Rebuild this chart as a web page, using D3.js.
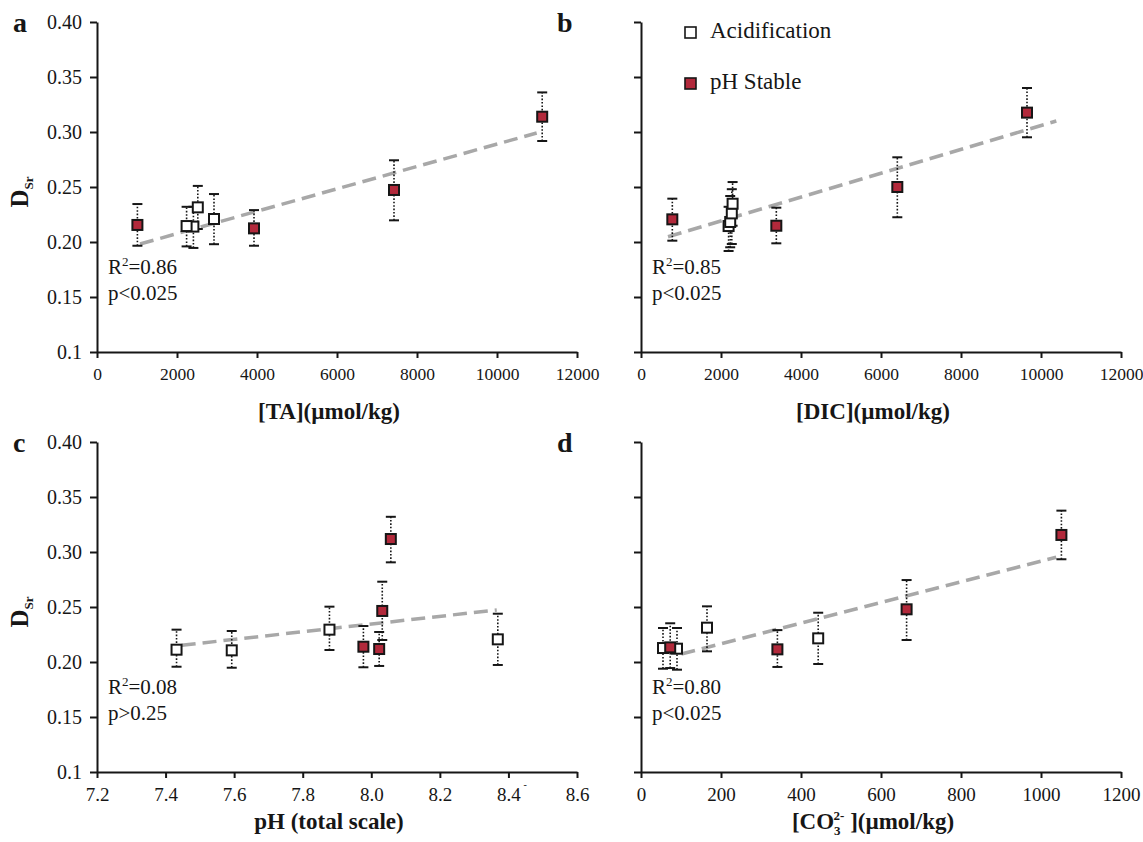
<!DOCTYPE html>
<html>
<head>
<meta charset="utf-8">
<script src="https://d3js.org/d3.v7.min.js"></script>
<style>
  body { margin: 0; background: #fff; }
  svg  { display: block; font-family: "Liberation Serif", "Times New Roman", serif; }
</style>
</head>
<body>
<svg id="chart" width="1143" height="842"></svg>
<script>
/* ============================================================
   DATA (D_Sr vs carbonate chemistry)
   ============================================================ */

const yTicks      = [0.10, 0.15, 0.20, 0.25, 0.30, 0.35, 0.40];
const yTickLabels = ['0.1', '0.15', '0.20', '0.25', '0.30', '0.35', '0.40'];

const concTicks   = [0, 2000, 4000, 6000, 8000, 10000, 12000];
const phTicks     = [7.2, 7.4, 7.6, 7.8, 8.0, 8.2, 8.4, 8.6];
const phLabels    = ['7.2', '7.4', '7.6', '7.8', '8.0', '8.2', '8.4', '8.6'];
const co3Ticks    = [0, 200, 400, 600, 800, 1000, 1200];

// panel a — [TA]
const taAcidX    = [2410, 2240, 2520, 2925];
const taAcidY    = [0.2140, 0.2145, 0.2315, 0.2209];
const taAcidLo   = [0.1946, 0.1960, 0.2118, 0.1980];
const taAcidHi   = [0.2320, 0.2320, 0.2510, 0.2436];
const taStableX  = [1010, 3925, 7425, 11130];
const taStableY  = [0.2155, 0.2124, 0.2473, 0.3139];
const taStableLo = [0.1966, 0.1966, 0.2197, 0.2918];
const taStableHi = [0.2345, 0.2290, 0.2743, 0.3360];
const taTrendX   = [1075, 10992];
const taTrendY   = [0.1982, 0.2991];

// panel b — [DIC]
const dicAcidX    = [2190, 2230, 2270, 2290];
const dicAcidY    = [0.2145, 0.2182, 0.2260, 0.2348];
const dicAcidLo   = [0.1918, 0.1952, 0.1982, 0.2148];
const dicAcidHi   = [0.2320, 0.2418, 0.2480, 0.2545];
const dicStableX  = [783, 3383, 6408, 9650];
const dicStableY  = [0.2206, 0.2148, 0.2500, 0.3176];
const dicStableLo = [0.2012, 0.1988, 0.2225, 0.2952];
const dicStableHi = [0.2394, 0.2312, 0.2770, 0.3400];
const dicTrendX   = [675, 10383];
const dicTrendY   = [0.2048, 0.3100];

// panel c — pH
const phAcidX    = [7.432, 7.593, 7.878, 8.369];
const phAcidY    = [0.2112, 0.2106, 0.2294, 0.2206];
const phAcidLo   = [0.1957, 0.1948, 0.2109, 0.1973];
const phAcidHi   = [0.2294, 0.2282, 0.2503, 0.2439];
const phStableX  = [7.977, 8.023, 8.032, 8.057];
const phStableY  = [0.2139, 0.2118, 0.2464, 0.3118];
const phStableLo = [0.1952, 0.1964, 0.2200, 0.2906];
const phStableHi = [0.2327, 0.2273, 0.2730, 0.3320];
const phTrendX   = [7.447, 8.366];
const phTrendY   = [0.2152, 0.2473];

// panel d — [CO3 2-]
const co3AcidX    = [55, 90, 165, 443];
const co3AcidY    = [0.2127, 0.2121, 0.2312, 0.2215];
const co3AcidLo   = [0.1939, 0.1930, 0.2097, 0.1982];
const co3AcidHi   = [0.2309, 0.2309, 0.2506, 0.2448];
const co3StableX  = [73, 341, 664, 1051];
const co3StableY  = [0.2133, 0.2115, 0.2479, 0.3155];
const co3StableLo = [0.1945, 0.1955, 0.2200, 0.2934];
const co3StableHi = [0.2352, 0.2290, 0.2745, 0.3376];
const co3TrendX   = [101, 1038];
const co3TrendY   = [0.2073, 0.2952];

const statR2 = ['0.86', '0.85', '0.08', '0.80'];
const statP  = ['p<0.025', 'p<0.025', 'p>0.25', 'p<0.025'];

const legendLabels = ['Acidification', 'pH Stable'];


/* ============================================================
   STYLE
   ============================================================ */

const COLORS = {
  ink:    '#161616',
  acid:   '#ffffff',
  stable: '#b2293b',
  trend:  '#a8a8a8',
};

const PLOT_W = 480;
const PLOT_H = 330;

function series(xs, ys, lo, hi, kind) {
  return xs.map((x, i) => ({ x, y: ys[i], lo: lo[i], hi: hi[i], kind }));
}

const panels = [
  {
    letter: 'a', left: 97, top: 22, titleY: 419, yLabels: true, tickFont: 17.5,
    domain: [0, 12000], ticks: concTicks, fmt: d => String(d),
    title: 'tA',
    points: series(taAcidX, taAcidY, taAcidLo, taAcidHi, 'acid')
      .concat(series(taStableX, taStableY, taStableLo, taStableHi, 'stable')),
    trend: { x: taTrendX, y: taTrendY }, r2: statR2[0], p: statP[0],
  },
  {
    letter: 'b', left: 641, top: 22, titleY: 419, yLabels: false, tickFont: 17.5,
    domain: [0, 12000], ticks: concTicks, fmt: d => String(d),
    title: 'dic',
    points: series(dicAcidX, dicAcidY, dicAcidLo, dicAcidHi, 'acid')
      .concat(series(dicStableX, dicStableY, dicStableLo, dicStableHi, 'stable')),
    trend: { x: dicTrendX, y: dicTrendY }, r2: statR2[1], p: statP[1],
  },
  {
    letter: 'c', left: 97, top: 442, titleY: 829, yLabels: true, tickFont: 19,
    domain: [7.2, 8.6], ticks: phTicks, fmt: (d, i) => phLabels[i],
    title: 'ph',
    points: series(phAcidX, phAcidY, phAcidLo, phAcidHi, 'acid')
      .concat(series(phStableX, phStableY, phStableLo, phStableHi, 'stable')),
    trend: { x: phTrendX, y: phTrendY }, r2: statR2[2], p: statP[2],
  },
  {
    letter: 'd', left: 641, top: 442, titleY: 829, yLabels: false, tickFont: 19,
    domain: [0, 1200], ticks: co3Ticks, fmt: d => String(d),
    title: 'co3',
    points: series(co3AcidX, co3AcidY, co3AcidLo, co3AcidHi, 'acid')
      .concat(series(co3StableX, co3StableY, co3StableLo, co3StableHi, 'stable')),
    trend: { x: co3TrendX, y: co3TrendY }, r2: statR2[3], p: statP[3],
  },
];


/* ============================================================
   AXIS TITLES (need sub/superscripts)
   ============================================================ */

function writeTitle(text, kind) {
  if (kind === 'tA')  { text.text('[TA](µmol/kg)'); return; }
  if (kind === 'dic') { text.text('[DIC](µmol/kg)'); return; }
  if (kind === 'ph')  { text.text('pH (total scale)'); return; }
  // [CO3 2- ](µmol/kg)
  text.append('tspan').text('[CO');
  text.append('tspan').attr('font-size', 13).attr('dy', 6).text('3');
  text.append('tspan').attr('font-size', 13).attr('dx', -7).attr('dy', -15).text('2-');
  text.append('tspan').attr('dy', 9).text(' ](µmol/kg)');
}


/* ============================================================
   DRAW ONE PANEL
   ============================================================ */

function drawPanel(svg, p) {
  const x = d3.scaleLinear().domain(p.domain).range([p.left, p.left + PLOT_W]);
  const y = d3.scaleLinear().domain([0.1, 0.4]).range([p.top + PLOT_H, p.top]);

  const g = svg.append('g');

  /* y axis */
  const yAxis = d3.axisLeft(y)
    .tickValues(yTicks)
    .tickSize(7)
    .tickSizeOuter(0)
    .tickPadding(8)
    .tickFormat((d, i) => p.yLabels ? yTickLabels[i] : '');

  g.append('g')
    .attr('transform', `translate(${p.left},0)`)
    .call(yAxis)
    .call(a => a.selectAll('path, line').attr('stroke', COLORS.ink).attr('stroke-width', 2))
    .call(a => a.selectAll('text')
      .attr('fill', COLORS.ink)
      .attr('font-family', '"Liberation Serif", serif')
      .attr('font-size', 20));

  /* x axis */
  const xAxis = d3.axisBottom(x)
    .tickValues(p.ticks)
    .tickSize(6)
    .tickSizeOuter(0)
    .tickPadding(10)
    .tickFormat(p.fmt);

  g.append('g')
    .attr('transform', `translate(0,${p.top + PLOT_H})`)
    .call(xAxis)
    .call(a => a.selectAll('path, line').attr('stroke', COLORS.ink).attr('stroke-width', 2))
    .call(a => a.selectAll('text')
      .attr('fill', COLORS.ink)
      .attr('font-family', '"Liberation Serif", serif')
      .attr('font-size', p.tickFont));

  // stray mark printed next to the 8.4 label in the original
  if (p.title === 'ph') {
    g.append('text')
      .attr('x', x(8.4) + 15)
      .attr('y', p.top + PLOT_H + 16)
      .attr('font-size', 10)
      .attr('fill', COLORS.ink)
      .text('-');
  }

  /* panel letter */
  g.append('text')
    .attr('x', p.left - 84)
    .attr('y', p.top + 10)
    .attr('font-size', 28)
    .attr('font-weight', 'bold')
    .attr('fill', COLORS.ink)
    .text(p.letter);

  /* x title */
  const title = g.append('text')
    .attr('x', p.left + PLOT_W / 2 - 8)
    .attr('y', p.titleY)
    .attr('text-anchor', 'middle')
    .attr('font-size', 23)
    .attr('font-weight', 'bold')
    .attr('fill', COLORS.ink);
  writeTitle(title, p.title);

  /* y title: D_Sr */
  if (p.yLabels) {
    const yt = g.append('text')
      .attr('transform', `translate(28,${p.top + 170}) rotate(-90)`)
      .attr('text-anchor', 'middle')
      .attr('font-weight', 'bold')
      .attr('fill', COLORS.ink);
    yt.append('tspan').attr('font-size', 25).text('D');
    yt.append('tspan').attr('font-size', 13).attr('dy', 5).text('Sr');
  }

  /* trend line */
  const trendPts = p.trend.x.map((v, i) => [v, p.trend.y[i]]);
  g.append('path')
    .datum(trendPts)
    .attr('d', d3.line().x(d => x(d[0])).y(d => y(d[1])))
    .attr('fill', 'none')
    .attr('stroke', COLORS.trend)
    .attr('stroke-width', 3.5)
    .attr('stroke-dasharray', '14,7');

  /* error bars */
  const err = g.append('g').selectAll('g')
    .data(p.points)
    .join('g');

  err.append('line')
    .attr('x1', d => x(d.x)).attr('x2', d => x(d.x))
    .attr('y1', d => y(d.lo)).attr('y2', d => y(d.hi))
    .attr('stroke', COLORS.ink)
    .attr('stroke-width', 1.6)
    .attr('stroke-dasharray', '1.6,1.8');

  ['lo', 'hi'].forEach(k => {
    err.append('line')
      .attr('x1', d => x(d.x) - 5).attr('x2', d => x(d.x) + 5)
      .attr('y1', d => y(d[k])).attr('y2', d => y(d[k]))
      .attr('stroke', COLORS.ink)
      .attr('stroke-width', 2);
  });

  /* markers */
  g.append('g').selectAll('rect')
    .data(p.points)
    .join('rect')
    .attr('x', d => x(d.x) - 5)
    .attr('y', d => y(d.y) - 5)
    .attr('width', 10)
    .attr('height', 10)
    .attr('fill', d => d.kind === 'acid' ? COLORS.acid : COLORS.stable)
    .attr('stroke', COLORS.ink)
    .attr('stroke-width', 2);

  /* R² and p */
  const r2 = g.append('text')
    .attr('x', p.left + 11)
    .attr('y', p.top + 252)
    .attr('font-size', 21)
    .attr('fill', COLORS.ink);
  r2.append('tspan').text('R');
  r2.append('tspan').attr('font-size', 13).attr('dy', -8).text('2');
  r2.append('tspan').attr('dy', 8).text('=' + p.r2);

  g.append('text')
    .attr('x', p.left + 11)
    .attr('y', p.top + 278)
    .attr('font-size', 21)
    .attr('fill', COLORS.ink)
    .text(p.p);
}


/* ============================================================
   LEGEND (inside panel b)
   ============================================================ */

function drawLegend(svg) {
  const kinds = ['acid', 'stable'];
  const rowY  = [32, 83];
  const lg = svg.append('g');

  lg.selectAll('rect')
    .data(kinds)
    .join('rect')
    .attr('x', 685)
    .attr('y', (d, i) => rowY[i] - 5)
    .attr('width', 11)
    .attr('height', 11)
    .attr('fill', d => d === 'acid' ? COLORS.acid : COLORS.stable)
    .attr('stroke', COLORS.ink)
    .attr('stroke-width', 1.6);

  lg.selectAll('text')
    .data(legendLabels)
    .join('text')
    .attr('x', 710)
    .attr('y', (d, i) => rowY[i] + 6)
    .attr('font-size', 23)
    .attr('fill', COLORS.ink)
    .text(d => d);
}


const svg = d3.select('#chart');
panels.forEach(p => drawPanel(svg, p));
drawLegend(svg);
</script>
</body>
</html>
